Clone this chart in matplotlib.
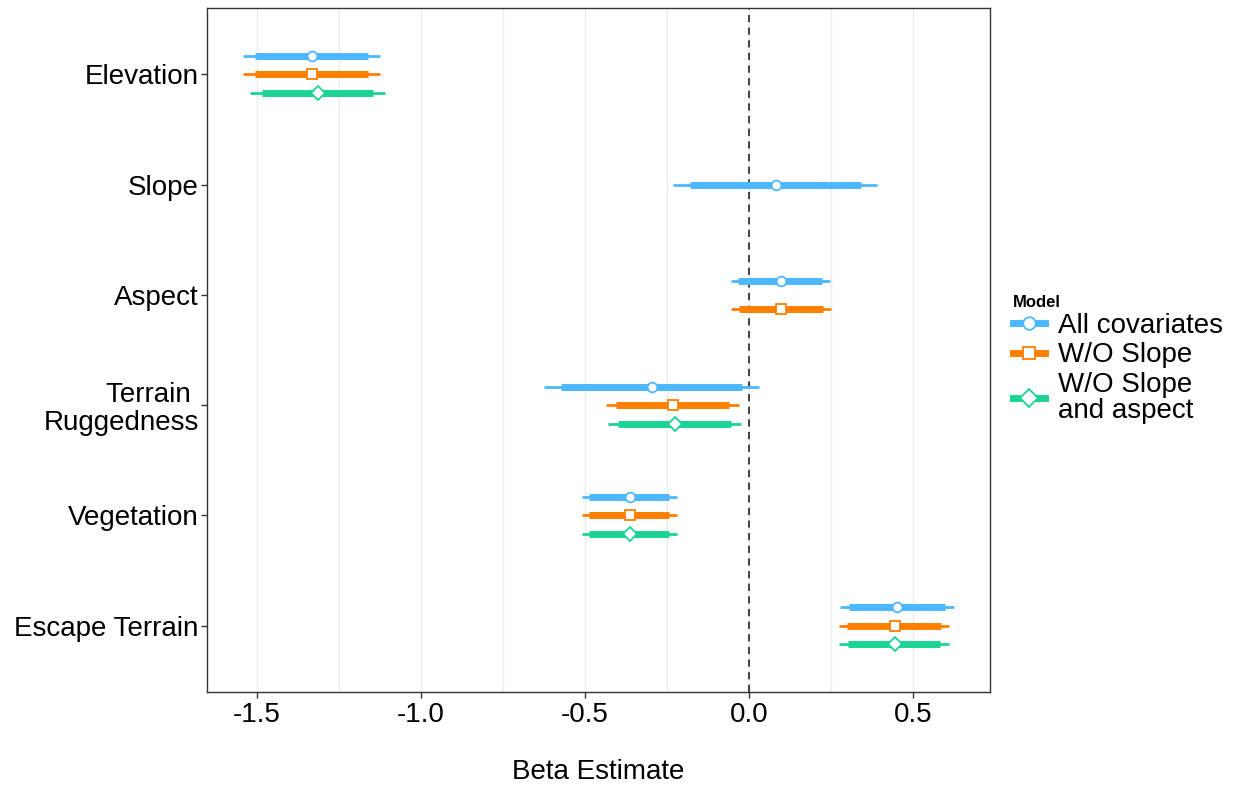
import numpy as np
import matplotlib.pyplot as plt
from matplotlib.lines import Line2D

plt.rcParams["font.family"] = ["Liberation Sans", "DejaVu Sans"]

# covariates, top to bottom
covariates = ["Elevation", "Slope", "Aspect", "Terrain \nRuggedness", "Vegetation", "Escape Terrain"]
models = ["All covariates", "W/O Slope", "W/O Slope\nand aspect"]
colors = ["#4db8ff", "#ff7f00", "#1bd395"]
markers = ["o", "s", "D"]
msizes = [7, 7.5, 7]

nan = np.nan
# point estimates per model (rows) and covariate (cols)
est = [
    [-1.332, 0.082, 0.098, -0.296, -0.363, 0.451],
    [-1.332, nan, 0.098, -0.232, -0.363, 0.445],
    [-1.314, nan, nan, -0.226, -0.363, 0.445],
]
# outer (thin) interval
lo_outer = [
    [-1.543, -0.232, -0.055, -0.625, -0.509, 0.277],
    [-1.543, nan, -0.055, -0.436, -0.509, 0.274],
    [-1.521, nan, nan, -0.430, -0.509, 0.274],
]
hi_outer = [
    [-1.125, 0.390, 0.247, 0.030, -0.220, 0.625],
    [-1.125, nan, 0.250, -0.030, -0.220, 0.610],
    [-1.110, nan, nan, -0.024, -0.220, 0.610],
]
# inner (thick) interval
lo_inner = [
    [-1.506, -0.180, -0.034, -0.573, -0.488, 0.305],
    [-1.506, nan, -0.030, -0.405, -0.488, 0.299],
    [-1.485, nan, nan, -0.399, -0.488, 0.302],
]
hi_inner = [
    [-1.162, 0.341, 0.223, -0.021, -0.244, 0.598],
    [-1.162, nan, 0.226, -0.061, -0.244, 0.585],
    [-1.146, nan, nan, -0.055, -0.244, 0.582],
]

fig = plt.figure(figsize=(12.44, 7.86), dpi=100)
ax = fig.add_axes([0.1664, 0.1196, 0.6294, 0.8702])

n_cov = len(covariates)
ypos = np.arange(n_cov)[::-1] + 1  # Elevation at top
dodge = 0.5

for j in range(n_cov):
    present = [m for m in range(len(models)) if not np.isnan(est[m][j])]
    k = len(present)
    for idx, m in enumerate(present):
        off = dodge / 2 - dodge / k * (idx + 0.5)
        y = ypos[j] + off
        c = colors[m]
        ax.plot([lo_outer[m][j], hi_outer[m][j]], [y, y], color=c, lw=2, solid_capstyle="butt", zorder=2)
        ax.plot([lo_inner[m][j], hi_inner[m][j]], [y, y], color=c, lw=5, solid_capstyle="butt", zorder=3)
        ax.plot(est[m][j], y, marker=markers[m], ms=msizes[m], mfc="white", mec=c, mew=1.3, zorder=4)

ax.axvline(0, color="#333333", ls=(0, (4, 3)), lw=1.3, zorder=1)

ax.set_xlim(-1.652, 0.735)
ax.set_ylim(0.4, n_cov + 0.6)
ax.set_xticks([-1.5, -1.0, -0.5, 0.0, 0.5])
ax.set_xticks([-1.25, -0.75, -0.25, 0.25], minor=True)
ax.set_xticklabels(["-1.5", "-1.0", "-0.5", "0.0", "0.5"])
ax.set_yticks(ypos)
ax.set_yticklabels(covariates, linespacing=1.1)
ax.grid(axis="x", which="both", color="#ebebeb", lw=1, zorder=0)
ax.set_axisbelow(True)
ax.tick_params(axis="both", which="major", labelsize=20, colors="#333333", labelcolor="black", length=4, width=1)
ax.tick_params(axis="y", pad=2)
ax.tick_params(axis="x", which="minor", length=0)
for s in ax.spines.values():
    s.set_color("#333333")
    s.set_linewidth(1)
ax.set_xlabel("Beta Estimate", fontsize=20, labelpad=22)

handles = [
    Line2D([], [], color=colors[m], lw=5, marker=markers[m], ms=9, mfc="white", mec=colors[m], mew=1.3)
    for m in range(len(models))
]
leg = fig.legend(handles, models, loc="center left", bbox_to_anchor=(0.814, 0.543), frameon=False,
                 title="Model", fontsize=20, handlelength=1.15, handletextpad=0.5, labelspacing=0.12,
                 borderaxespad=0, borderpad=0)
leg.get_title().set_fontsize(12)
leg.get_title().set_fontweight("bold")
leg._legend_box.align = "left"
for t in leg.get_texts():
    t.set_linespacing(1.0)

fig.savefig("out.png", dpi=100)
